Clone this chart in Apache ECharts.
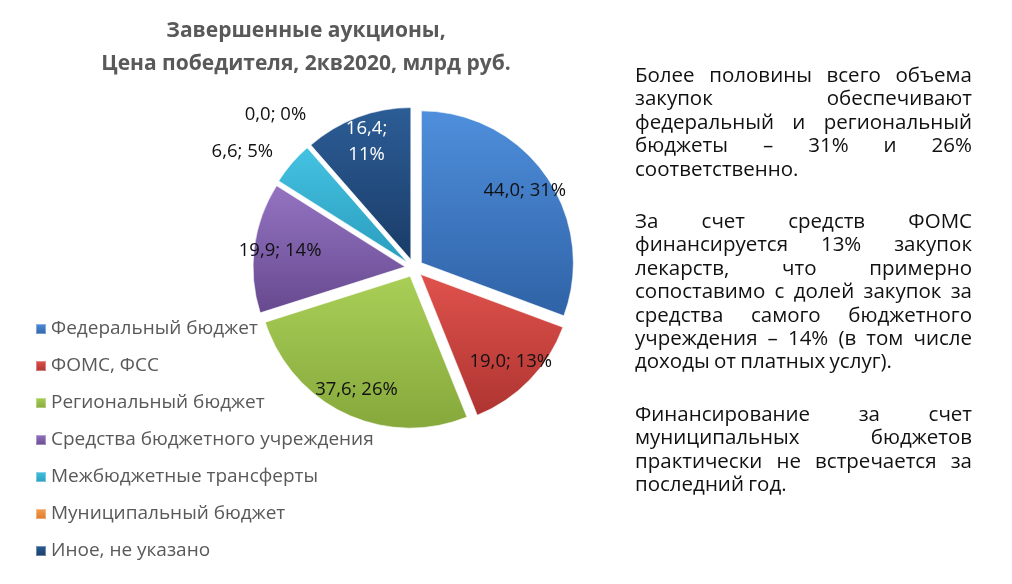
<!DOCTYPE html>
<html>
<head>
<meta charset="utf-8">
<script src="https://cdn.jsdelivr.net/npm/echarts@6/dist/echarts.min.js"></script>
<style>
  html, body { margin: 0; padding: 0; background: #fff; }
  #wrap { position: relative; width: 1012px; height: 584px; }
  #main { position: absolute; left: 0; top: 0; width: 1012px; height: 584px; }
  #note {
    position: absolute; left: 635px; top: 63px; width: 337px;
    font-family: 'Open Sans', sans-serif; font-size: 20.5px; line-height: 23.4px; color: #111;
    word-spacing: -1px;
  }
  #note p { margin: 0 0 29px 0; }
  #note span { display: block; text-align: justify; text-align-last: justify; white-space: nowrap; }
  #note span.last { text-align-last: left; }
</style>
</head>
<body>
<div id="wrap">
  <div id="main"></div>
  <div id="note">
    <p>
      <span>Более половины всего объема</span>
      <span>закупок обеспечивают</span>
      <span>федеральный и региональный</span>
      <span>бюджеты – 31% и 26%</span>
      <span class="last">соответственно.</span>
    </p>
    <p>
      <span>За счет средств ФОМС</span>
      <span>финансируется 13% закупок</span>
      <span>лекарств, что примерно</span>
      <span>сопоставимо с долей закупок за</span>
      <span>средства самого бюджетного</span>
      <span>учреждения – 14% (в том числе</span>
      <span class="last">доходы от платных услуг).</span>
    </p>
    <p>
      <span>Финансирование за счет</span>
      <span>муниципальных бюджетов</span>
      <span>практически не встречается за</span>
      <span class="last">последний год.</span>
    </p>
  </div>
</div>
<script>
var categories = ['Федеральный бюджет', 'ФОМС, ФСС', 'Региональный бюджет', 'Средства бюджетного учреждения',
                  'Межбюджетные трансферты', 'Муниципальный бюджет', 'Иное, не указано'];
var values = [44.0, 19.0, 37.6, 19.9, 6.6, 0.0, 16.4];
var outsideLabels = ['Межбюджетные трансферты', 'Муниципальный бюджет'];

var colorTop = ['#4f8fdc', '#e0524c', '#a9cf57', '#9474c2', '#45c2e2', '#f9a04f', '#2c5d96'];
var colorBottom = ['#2f62a6', '#ae3431', '#86a83c', '#67498f', '#2a9dbd', '#d9782c', '#1a3c68'];

var myChart = echarts.init(document.getElementById('main'));

function fmt(params) {
  var v = params.value.toFixed(1).replace('.', ',');
  var p = Math.round(params.percent) + '%';
  if (params.name === 'Иное, не указано') return v + ';\n' + p;
  return v + '; ' + p;
}

var visualData = categories.map(function (name, i) {
  return {
    name: name, value: values[i], selected: true,
    itemStyle: {
      color: new echarts.graphic.LinearGradient(0, 0, 0, 1, [
        {offset: 0, color: colorTop[i]}, {offset: 1, color: colorBottom[i]}
      ])
    }
  };
});

var labelData = categories.map(function (name, i) {
  var outside = outsideLabels.indexOf(name) >= 0;
  return {
    name: name, value: values[i], selected: true,
    label: {
      position: outside ? 'outside' : 'inside',
      color: name === 'Иное, не указано' ? '#ffffff' : '#111111'
    },
    labelLine: {show: false, length: name === 'Муниципальный бюджет' ? 34 : 10, length2: 0}
  };
});

var opt = {
  backgroundColor: '#ffffff',
  title: {
    text: 'Завершенные аукционы,\nЦена победителя, 2кв2020, млрд руб.',
    left: 301,
    top: 10,
    textAlign: 'center',
    textStyle: {
      fontFamily: 'Open Sans', fontWeight: 'bold', fontSize: 21, lineHeight: 33, color: '#595959'
    }
  },
  legend: {
    orient: 'vertical',
    left: 30,
    top: 313,
    itemGap: 15,
    itemWidth: 10,
    itemHeight: 10,
    icon: 'rect',
    data: categories,
    textStyle: {fontFamily: 'Open Sans', fontSize: 19, lineHeight: 22, color: '#595959'}
  },
  series: [
    {
      type: 'pie',
      center: [414, 268],
      radius: 152,
      startAngle: 90,
      clockwise: true,
      selectedMode: 'multiple',
      selectedOffset: 9,
      avoidLabelOverlap: false,
      label: {show: false},
      labelLine: {show: false},
      emphasis: {disabled: true},
      itemStyle: {borderColor: 'rgba(255,255,255,0.35)', borderWidth: 1},
      data: visualData
    },
    {
      type: 'pie',
      center: [414, 268],
      radius: [86, 160],
      startAngle: 90,
      clockwise: true,
      selectedMode: 'multiple',
      selectedOffset: 9,
      silent: true,
      avoidLabelOverlap: false,
      itemStyle: {color: 'rgba(0,0,0,0)'},
      emphasis: {disabled: true},
      tooltip: {show: false},
      label: {
        show: true,
        formatter: fmt,
        fontFamily: 'Open Sans',
        fontSize: 18.5,
        lineHeight: 26
      },
      labelLayout: function (p) {
        if (p.dataIndex === 5) return {align: 'center'};
      },
      data: labelData
    }
  ]
};
myChart.setOption(opt);
</script>
</body>
</html>
